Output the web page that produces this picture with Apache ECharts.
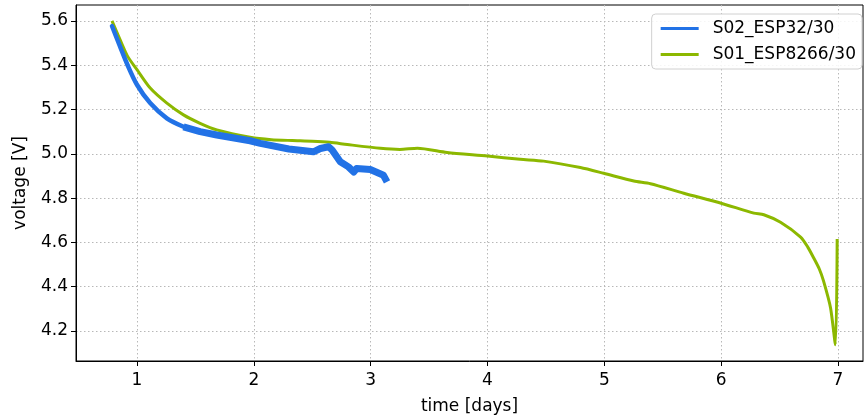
<!DOCTYPE html>
<html>
<head>
<meta charset="utf-8">
<script src="https://cdn.jsdelivr.net/npm/echarts@6/dist/echarts.min.js"></script>
<style>
	html, body { margin: 0; padding: 0; background: #fff; }
	#chart { width: 864px; height: 420px; }
</style>
</head>
<body>
<div id="chart"></div>
<script>
// S02_ESP32/30
const esp32Days = [0.786, 0.854, 0.92, 1.0, 1.113, 1.256, 1.398, 1.54, 1.683, 1.968, 2.056, 2.3, 2.51, 2.57, 2.64, 2.67, 2.74, 2.81, 2.855, 2.88, 2.997, 3.11, 3.14]
const esp32Volts = [5.577, 5.486, 5.4, 5.312, 5.229, 5.16, 5.122, 5.1, 5.085, 5.059, 5.047, 5.022, 5.009, 5.024, 5.032, 5.017, 4.964, 4.941, 4.918, 4.934, 4.929, 4.903, 4.873]
// index where the noisy (thicker) part of the trace begins
const esp32NoisyFrom = 6

// S01_ESP8266/30
const esp8266Days = [0.786, 0.854, 0.92, 1.0, 1.113, 1.256, 1.398, 1.54, 1.683, 1.968, 2.15, 2.33, 2.5, 2.65, 2.8, 3.083, 3.25, 3.4, 3.654, 4.0, 4.28, 4.48, 4.795, 4.995, 5.252, 5.395, 5.68, 6.0, 6.28, 6.365, 6.508, 6.68, 6.74, 6.79, 6.84, 6.876, 6.936, 6.978, 6.993]
const esp8266Volts = [5.6, 5.517, 5.44, 5.38, 5.297, 5.229, 5.176, 5.138, 5.108, 5.075, 5.064, 5.06, 5.057, 5.052, 5.042, 5.025, 5.02, 5.025, 5.006, 4.99, 4.975, 4.967, 4.938, 4.912, 4.877, 4.865, 4.822, 4.777, 4.732, 4.725, 4.691, 4.624, 4.58, 4.532, 4.48, 4.426, 4.305, 4.138, 4.615]

const xTicks = [1, 2, 3, 4, 5, 6, 7]
const yTicks = [4.2, 4.4, 4.6, 4.8, 5.0, 5.2, 5.4, 5.6]

const zip = (xs, ys) => xs.map((x, i) => [x, ys[i]])

const font = 'DejaVu Sans'
const fontSize = 17
const blue = '#2272e6'
const green = '#8cb800'
const lineIcon = 'path://M0,0 L40,0 L40,3 L0,3 Z'
const gridLine = { show: true, lineStyle: { color: '#b8b8b8', type: [1.5, 2.5], width: 1 } }

const esp32 = zip(esp32Days, esp32Volts)

const myChart = echarts.init(document.getElementById('chart'))
myChart.setOption({
	animation: false,
	backgroundColor: '#fff',
	textStyle: { fontFamily: font },
	grid: {
		left: 76,
		right: 1,
		top: 5,
		bottom: 59,
		outerBoundsMode: 'none',
		containLabel: false,
		show: true,
		borderColor: '#000',
		borderWidth: 1,
	},
	legend: {
		right: 2,
		top: 14,
		orient: 'vertical',
		itemWidth: 38,
		itemHeight: 3,
		itemGap: 9,
		padding: [6, 6, 6, 9],
		borderColor: '#d0d0d0',
		borderWidth: 1,
		borderRadius: 4,
		backgroundColor: 'rgba(255,255,255,0.85)',
		textStyle: { fontFamily: font, fontSize: fontSize, color: '#000', padding: [0, 0, 0, 9] },
		data: [
			{ name: 'S02_ESP32/30', icon: lineIcon },
			{ name: 'S01_ESP8266/30', icon: lineIcon },
		],
	},
	xAxis: {
		type: 'value',
		min: 0.478,
		max: 7.214,
		name: 'time [days]',
		nameLocation: 'middle',
		nameGap: 37,
		nameTextStyle: { fontFamily: font, fontSize: fontSize, color: '#000' },
		axisLine: { show: true, onZero: false, lineStyle: { color: '#000', width: 1 } },
		axisTick: { show: true, length: 5, customValues: xTicks, lineStyle: { color: '#000' } },
		axisLabel: { customValues: xTicks, fontFamily: font, fontSize: fontSize, color: '#000', margin: 11 },
		splitLine: gridLine,
	},
	yAxis: {
		type: 'value',
		min: 4.0645,
		max: 5.672,
		name: 'voltage [V]',
		nameLocation: 'middle',
		nameGap: 47,
		nameTextStyle: { fontFamily: font, fontSize: fontSize, color: '#000' },
		axisLine: { show: true, onZero: false, lineStyle: { color: '#000', width: 1 } },
		axisTick: { show: true, length: 5, customValues: yTicks, lineStyle: { color: '#000' } },
		axisLabel: {
			customValues: yTicks,
			fontFamily: font,
			fontSize: fontSize,
			color: '#000',
			margin: 8,
			formatter: (v) => v.toFixed(1),
		},
		splitLine: gridLine,
	},
	series: [
		{
			name: 'S02_ESP32/30',
			type: 'line',
			data: esp32.slice(0, esp32NoisyFrom + 1),
			showSymbol: false,
			smooth: 0.3,
			color: blue,
			lineStyle: { width: 4.5, color: blue, join: 'round', cap: 'round' },
			z: 3,
		},
		{
			name: 'S02_ESP32/30',
			type: 'line',
			data: esp32.slice(esp32NoisyFrom),
			showSymbol: false,
			color: blue,
			lineStyle: { width: 7, color: blue, join: 'round', cap: 'butt' },
			z: 3,
		},
		{
			name: 'S01_ESP8266/30',
			type: 'line',
			data: zip(esp8266Days, esp8266Volts),
			showSymbol: false,
			smooth: 0.25,
			color: green,
			lineStyle: { width: 3, color: green, join: 'round' },
			z: 2,
		},
	],
})
</script>
</body>
</html>
